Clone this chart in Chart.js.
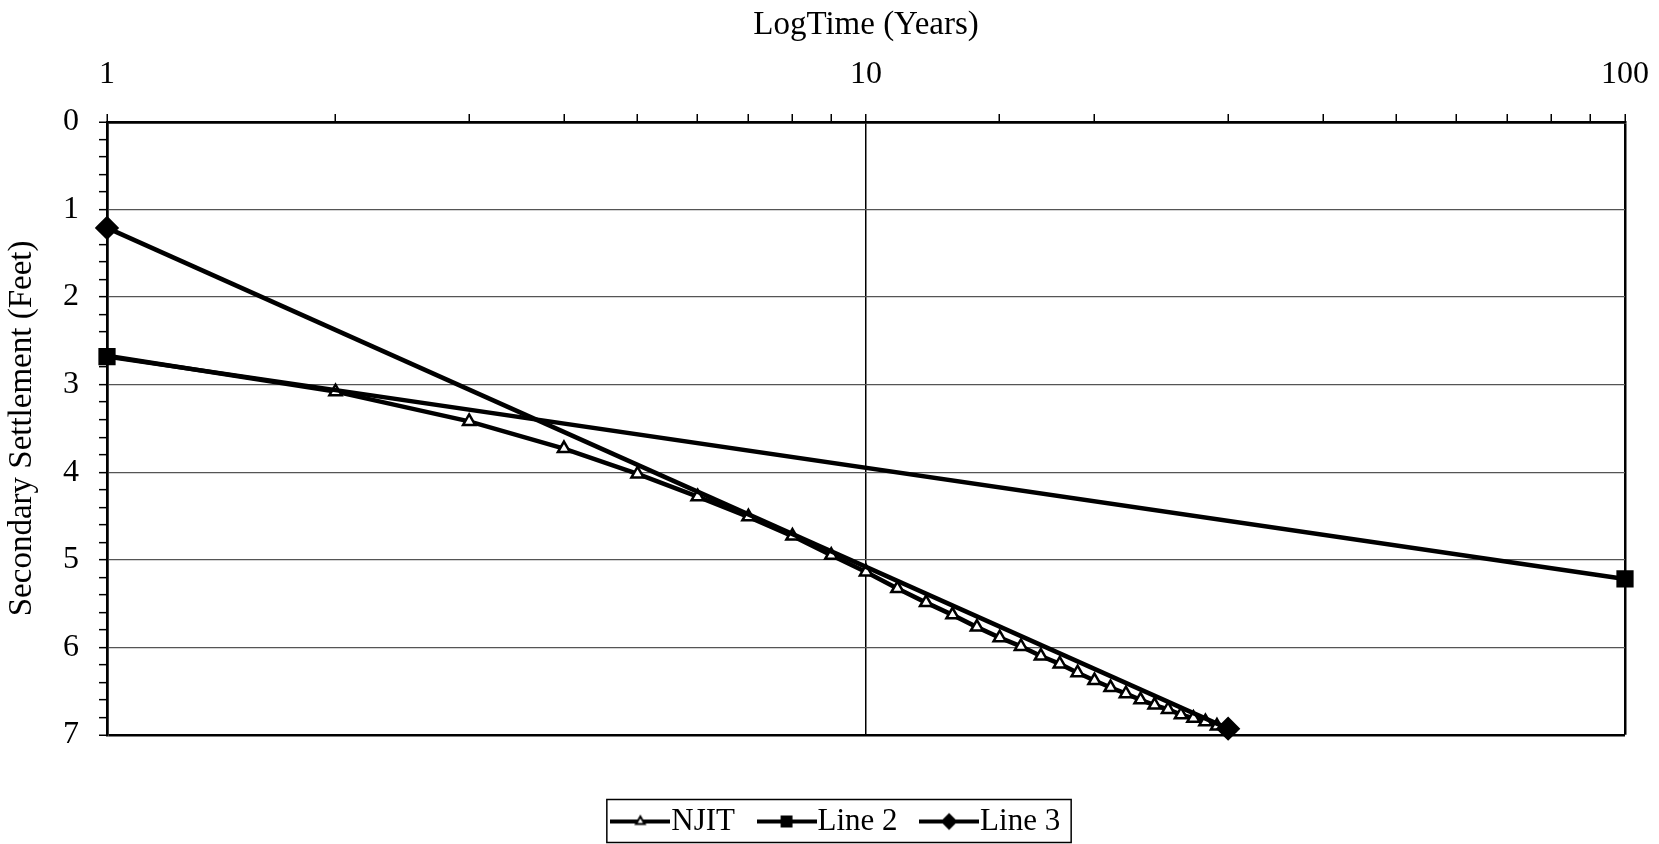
<!DOCTYPE html>
<html>
<head>
<meta charset="utf-8">
<title>Secondary Settlement vs LogTime</title>
<script src="https://cdn.jsdelivr.net/npm/chart.js@4.4.1/dist/chart.umd.min.js"></script>
<style>
  html, body { margin: 0; padding: 0; background: #fff; overflow: hidden; }
  #wrap { width: 1659px; height: 844px; overflow: hidden; }
  canvas { display: block; }
</style>
</head>
<body>
<div id="wrap"><canvas id="chart"></canvas></div>
<script>
// values
const njitYears = [1, 2, 3, 4, 5, 6, 7, 8, 9, 10, 11, 12, 13, 14, 15, 16, 17, 18, 19, 20,
                   21, 22, 23, 24, 25, 26, 27, 28, 29, 30];
const njitSettlement = [2.67, 3.08, 3.42, 3.73, 4.02, 4.28, 4.51, 4.73, 4.95, 5.14,
                        5.33, 5.49, 5.63, 5.77, 5.89, 5.99, 6.10, 6.19, 6.29, 6.38,
                        6.46, 6.53, 6.60, 6.66, 6.71, 6.77, 6.81, 6.85, 6.90, 6.92];
const line2Years = [1, 100];
const line2Settlement = [2.68, 5.22];
const line3Years = [1, 30];
const line3Settlement = [1.21, 6.93];
const xTickLabels = [1, 10, 100];
const yTickLabels = [0, 1, 2, 3, 4, 5, 6, 7];

const serif = "'Liberation Serif', 'Times New Roman', serif";
Chart.defaults.font.family = serif;
Chart.defaults.color = '#000';

const toPoints = (xs, ys) => xs.map((x, i) => ({ x: x, y: ys[i] }));
const round3 = v => Math.round(v * 1000) / 1000;

// legend icon: a short line with the marker in the middle (like Excel)
function legendIcon(style, fill, radius) {
  const c = document.createElement('canvas');
  c.width = 60;
  c.height = 24;
  const g = c.getContext('2d');
  g.strokeStyle = '#000';
  g.lineWidth = 4;
  g.beginPath();
  g.moveTo(0, 12);
  g.lineTo(60, 12);
  g.stroke();
  g.fillStyle = fill;
  g.lineWidth = 2;
  Chart.helpers.drawPoint(g, { pointStyle: style, radius: radius, rotation: 0, borderWidth: 2 }, 30, 12);
  return c;
}
const icons = [
  legendIcon('triangle', '#fff', 5),
  legendIcon('rect', '#000', 7),
  legendIcon('rectRot', '#000', 7)
];

// the legend sits a little right of centre in the original
const legendShift = {
  id: 'legendShift',
  afterLayout(chart) {
    chart.legend.left += 30;
    chart.legend.right += 30;
  }
};

// frame round the legend
const legendFrame = {
  id: 'legendFrame',
  afterDraw(chart) {
    const boxes = chart.legend.legendHitBoxes;
    if (!boxes || !boxes.length) return;
    const first = boxes[0];
    const last = boxes[boxes.length - 1];
    const left = first.left - 18;
    const right = last.left + last.width + 11;
    const mid = first.top + first.height / 2;
    const ctx = chart.ctx;
    ctx.save();
    ctx.strokeStyle = '#000';
    ctx.lineWidth = 1.5;
    ctx.strokeRect(left, mid - 22, right - left, 43);
    ctx.restore();
  }
};

new Chart(document.getElementById('chart'), {
  type: 'scatter',
  data: {
    datasets: [
      {
        label: 'NJIT',
        data: toPoints(njitYears, njitSettlement),
        showLine: true,
        borderColor: '#000',
        borderWidth: 4.5,
        pointStyle: 'triangle',
        pointRadius: 7,
        pointBorderWidth: 2.5,
        pointBackgroundColor: '#fff',
        pointBorderColor: '#000',
        order: 3
      },
      {
        label: 'Line 2',
        data: toPoints(line2Years, line2Settlement),
        showLine: true,
        borderColor: '#000',
        borderWidth: 4.5,
        pointStyle: 'rect',
        pointRadius: 9,
        pointBackgroundColor: '#000',
        pointBorderColor: '#000',
        order: 2
      },
      {
        label: 'Line 3',
        data: toPoints(line3Years, line3Settlement),
        showLine: true,
        borderColor: '#000',
        borderWidth: 4.5,
        pointStyle: 'rectRot',
        pointRadius: 9,
        pointBackgroundColor: '#000',
        pointBorderColor: '#000',
        order: 1
      }
    ]
  },
  options: {
    responsive: true,
    maintainAspectRatio: false,
    animation: false,
    clip: false,
    layout: { padding: { left: 0, top: 0, right: 34, bottom: -3 } },
    scales: {
      x: {
        type: 'logarithmic',
        position: 'top',
        min: 1,
        max: 100,
        afterFit: s => {
          s.height = 122;
          s.paddingLeft = 0;
          s.paddingRight = 34;
        },
        title: {
          display: true,
          text: 'LogTime (Years)',
          color: '#000',
          font: { size: 33 },
          padding: { top: 6, bottom: 0 }
        },
        ticks: {
          autoSkip: false,
          maxRotation: 0,
          padding: 20,
          color: '#000',
          font: { size: 32 },
          callback: v => xTickLabels.includes(v) ? String(v) : ''
        },
        grid: {
          color: c => xTickLabels.includes(c.tick && c.tick.value) ? '#000' : 'rgba(0,0,0,0)',
          lineWidth: c => (c.tick && c.tick.value === 10) ? 1.5 : 2.5,
          tickColor: '#000',
          tickWidth: 1.5,
          tickLength: 8
        },
        border: { color: '#000', width: 2.5 }
      },
      y: {
        reverse: true,
        min: 0,
        max: 7,
        afterFit: s => { s.width = 107; },
        title: {
          display: true,
          text: 'Secondary Settlement (Feet)',
          color: '#000',
          font: { size: 33 },
          padding: { top: 3, bottom: 0 }
        },
        ticks: {
          stepSize: 0.2,
          maxTicksLimit: 40,
          autoSkip: false,
          padding: 20,
          color: '#000',
          font: { size: 32 },
          callback: v => yTickLabels.includes(round3(v)) ? String(round3(v)) : ''
        },
        grid: {
          color: c => {
            const v = c.tick ? round3(c.tick.value) : -1;
            if (v === 7 || v === 0) return '#000';
            return yTickLabels.includes(v) ? '#555' : 'rgba(0,0,0,0)';
          },
          lineWidth: c => {
            const v = c.tick ? round3(c.tick.value) : -1;
            return (v === 7 || v === 0) ? 2.5 : 1.3;
          },
          tickColor: '#000',
          tickWidth: 1.5,
          tickLength: 8
        },
        border: { color: '#000', width: 2.5 }
      }
    },
    plugins: {
      tooltip: { enabled: false },
      legend: {
        position: 'bottom',
        title: { display: true, text: '', font: { size: 1 }, padding: { top: 34, bottom: 0 } },
        labels: {
          usePointStyle: true,
          pointStyleWidth: 31,
          padding: 36,
          color: '#000',
          font: { size: 31 },
          sort: (a, b) => a.datasetIndex - b.datasetIndex,
          generateLabels: chart => {
            const items = Chart.defaults.plugins.legend.labels.generateLabels(chart);
            items.forEach(it => { it.pointStyle = icons[it.datasetIndex]; });
            return items;
          }
        }
      }
    }
  },
  plugins: [legendShift, legendFrame]
});
</script>
</body>
</html>
